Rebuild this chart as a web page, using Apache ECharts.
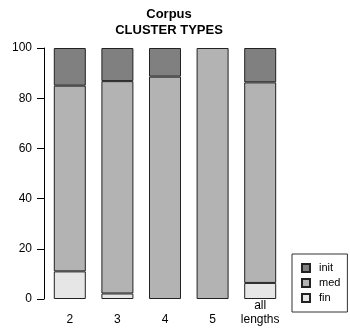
<!DOCTYPE html>
<html><head><meta charset="utf-8">
<script src="https://cdn.jsdelivr.net/npm/echarts@6/dist/echarts.min.js"></script>
<style>html,body{margin:0;padding:0;background:#fff}#c{width:350px;height:333px}</style>
</head><body><div id="c"></div>
<script>
var categories = ['2', '3', '4', '5', 'all\nlengths'];
var finValues = [11, 2.2, 0, 0, 6.4];
var medValues = [74, 84.6, 88.6, 100, 79.9];
var initValues = [15, 13.2, 11.4, 0, 13.7];
var yTicks = [0, 20, 40, 60, 80, 100];

var font = 'Liberation Sans, Arial, sans-serif';
function mk(name, data, color) {
  return {name: name, type: 'bar', stack: 'a', barWidth: 32,
    data: data.map(function (v) { return v === 0 ? '-' : v; }),
    itemStyle: {color: color, borderColor: '#222', borderWidth: 1}};
}
var chart = echarts.init(document.getElementById('c'), null, {renderer: 'canvas'});
chart.setOption({
  animation: false,
  title: {text: 'Corpus\nCLUSTER TYPES', left: 164, textAlign: 'center', top: 1,
    textStyle: {fontFamily: font, fontSize: 13, fontWeight: 'bold', color: '#000', lineHeight: 16}},
  grid: {left: 46, right: 66, top: 48, bottom: 34},
  legend: {data: ['init', 'med', 'fin'], orient: 'vertical', left: 292, top: 254,
    itemWidth: 8, itemHeight: 8, itemGap: 1, icon: 'rect',
    borderColor: '#333', borderWidth: 1, padding: [7, 7, 7, 9],
    textStyle: {fontFamily: font, fontSize: 11, color: '#000', lineHeight: 14, padding: [0, 0, 0, 4]}},
  xAxis: {type: 'category', data: categories,
    axisLine: {show: false}, axisTick: {show: false},
    axisLabel: {fontFamily: font, fontSize: 12, color: '#000', margin: 0, lineHeight: 14, interval: 0,
      formatter: function (v) { return v.indexOf('\n') >= 0 ? v : '\n' + v; }}},
  yAxis: {type: 'value', min: 0, max: 100, interval: 20, offset: 2,
    splitLine: {show: false},
    axisLine: {show: true, lineStyle: {color: '#000'}},
    axisTick: {show: true, length: 7, lineStyle: {color: '#000'}},
    axisLabel: {fontFamily: font, fontSize: 12, color: '#000', margin: 12,
      formatter: function (v) { return yTicks.indexOf(v) >= 0 ? String(v) : ''; }}},
  series: [mk('fin', finValues, '#e6e6e6'), mk('med', medValues, '#b3b3b3'), mk('init', initValues, '#808080')]
});
</script></body></html>
